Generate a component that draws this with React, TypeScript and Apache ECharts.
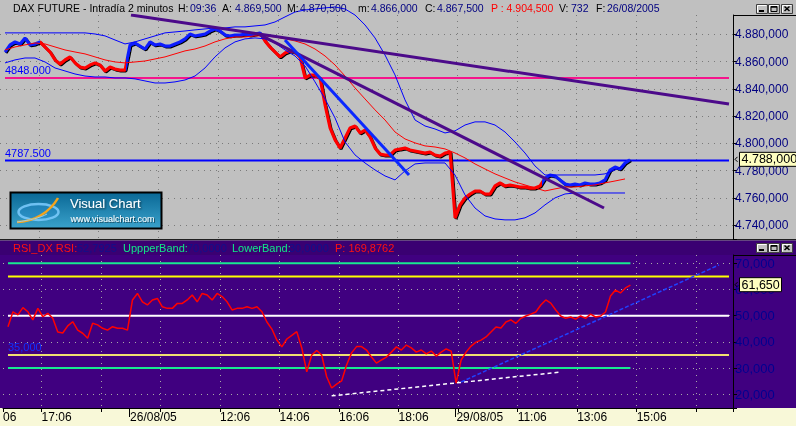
import React, { useEffect, useRef } from 'react';
import * as echarts from 'echarts';

// ---------- axes & ticks ----------
const X_MIN = 21; // bar index at the left edge of the plots
const X_MAX = 754; // bar index at the right edge of the plots
const X_GRID_STEP = 59.75; // bars between time ticks (2 hours of 2-minute bars)
const X_TICK_LABELS = ['15:06', '17:06', '', '', '12:06', '14:06', '16:06', '18:06', '', '11:06', '13:06', '15:06', ''];
const X_EDGE_LABEL = '06'; // the cut-off label at the left edge
const DAY_TICKS = [147.6, 475.3];
const DAY_LABELS = ['26/08/05', '29/08/05'];

const PRICE_MIN = 4730;
const PRICE_MAX = 4894.1;
const RSI_MIN = 14.77;
const RSI_MAX = 73.17;

// ---------- price panel ----------
const BAR0 = 26; // bar index of the first sample
const PRICE_STEP = 5;
const AVG_STEP = 10;

const PRICE = [
  4867.0, 4872.2, 4874.4, 4872.9, 4877.3, 4872.2, 4872.9, 4874.4, 4870.7, 4867.0,
  4861.2, 4858.2, 4861.2, 4863.4, 4859.0, 4856.0, 4855.3, 4857.5, 4859.0, 4857.5,
  4853.1, 4856.0, 4854.6, 4853.8, 4853.8, 4872.2, 4873.6, 4871.4, 4869.2, 4874.4,
  4872.2, 4872.9, 4871.4, 4871.4, 4872.9, 4874.4, 4876.6, 4880.2, 4878.8, 4879.5,
  4880.2, 4882.4, 4883.9, 4882.4, 4879.5, 4878.8, 4879.5, 4879.5, 4880.2, 4879.5,
  4880.2, 4881.0, 4875.1, 4870.7, 4867.0, 4863.4, 4866.3, 4867.8, 4867.0, 4863.4,
  4848.0, 4850.2, 4850.2, 4848.0, 4828.2, 4811.4, 4802.6, 4796.7, 4804.0, 4811.4,
  4812.8, 4807.7, 4809.9, 4804.8, 4796.7, 4792.3, 4791.6, 4791.6, 4795.2, 4796.0,
  4796.7, 4795.2, 4794.5, 4793.8, 4793.0, 4793.8, 4791.6, 4790.8, 4793.0, 4793.8,
  4745.4, 4755.0, 4760.1, 4763.0, 4765.2, 4765.2, 4763.0, 4763.0, 4768.9, 4771.1,
  4768.9, 4769.6, 4768.9, 4768.1, 4768.1, 4767.4, 4767.4, 4768.9, 4774.7, 4776.9,
  4776.2, 4773.3, 4770.3, 4769.6, 4770.3, 4769.6, 4771.1, 4770.3, 4770.3, 4771.1,
  4773.3, 4780.6, 4782.8, 4781.3, 4785.7, 4788.0,
];
const COLOR_BREAKS = [61, 147, 283, 563]; // bar indexes where bars switch blue/red

const MA = [
  4868.5, 4870.7, 4872.2, 4873.6, 4872.9, 4870.7, 4868.5, 4867.0, 4865.6, 4863.4,
  4861.2, 4859.7, 4859.0, 4859.7, 4860.4, 4861.9, 4863.4, 4865.6, 4867.8, 4869.2,
  4871.4, 4874.4, 4876.6, 4878.0, 4878.0, 4878.8, 4878.8, 4878.0, 4876.6, 4875.1,
  4872.9, 4869.2, 4864.1, 4857.5, 4849.4, 4840.7, 4832.6, 4824.6, 4817.2, 4808.4,
  4803.3, 4800.4, 4798.2, 4797.4, 4796.0, 4793.0, 4789.4, 4785.0, 4781.3, 4777.7,
  4774.7, 4771.8, 4769.6, 4767.4, 4765.2, 4766.7, 4768.1, 4768.1, 4768.9, 4769.6,
  4771.1, 4772.5, 4774.0,
];
const BAND_UPPER = [
  4881.0, 4881.0, 4881.0, 4881.0, 4881.0, 4881.0, 4881.0, 4881.0, 4881.0, 4880.2,
  4878.8, 4875.8, 4872.9, 4874.4, 4876.6, 4878.8, 4881.0, 4881.7, 4882.4, 4883.2,
  4883.9, 4884.6, 4884.6, 4885.4, 4885.4, 4886.1, 4886.8, 4889.0, 4892.7, 4896.3,
  4897.8, 4898.5, 4899.3, 4900.0, 4898.5, 4894.1, 4886.8, 4877.3, 4864.8, 4850.2,
  4831.9, 4817.2, 4812.8, 4810.6, 4807.7, 4809.2, 4813.5, 4815.8, 4815.8, 4813.5,
  4808.4, 4801.1, 4793.0, 4783.5, 4776.9, 4776.9, 4776.9, 4776.9, 4776.9, 4776.9,
  4777.7, 4780.6, 4784.2,
];
const BAND_LOWER = [
  4859.0, 4861.2, 4862.6, 4862.6, 4859.7, 4855.3, 4853.1, 4850.9, 4849.4, 4848.7,
  4848.7, 4848.0, 4848.0, 4847.3, 4845.8, 4844.3, 4844.3, 4845.1, 4846.5, 4849.4,
  4855.3, 4863.4, 4870.0, 4874.4, 4876.6, 4877.3, 4876.6, 4873.6, 4868.5, 4864.1,
  4856.8, 4845.1, 4832.6, 4818.7, 4801.1, 4791.6, 4785.7, 4780.6, 4776.2, 4773.3,
  4779.9, 4785.0, 4785.7, 4785.7, 4785.7, 4776.9, 4762.3, 4752.7, 4746.9, 4744.7,
  4744.0, 4744.0, 4745.5, 4749.1, 4755.0, 4760.1, 4763.0, 4763.7, 4763.7, 4763.7,
  4763.7, 4763.7, 4763.7,
];
const PRICE_LEVELS = [4848, 4787.5];
const LEVEL_END = 750;
const TREND_LINES = [
  [[152, 4894.1], [750, 4828.9]],
  [[281, 4879.5], [625, 4752.7]],
  [[306, 4875.8], [430, 4776.9]],
];
const LAST_PRICE = 4788;

// ---------- RSI panel ----------
const RSI = [
  45.8, 51.5, 50.3, 53.1, 51.5, 48.4, 52.8, 49.6, 50.9, 49.0,
  43.8, 43.4, 46.1, 47.7, 44.5, 43.3, 41.4, 47.1, 46.5, 45.2,
  44.5, 45.8, 45.2, 45.2, 44.5, 56.0, 58.5, 55.3, 54.1, 56.0,
  56.6, 53.4, 52.8, 52.8, 54.7, 54.7, 56.0, 57.9, 55.3, 58.5,
  57.9, 56.0, 58.5, 57.3, 55.3, 52.2, 52.8, 52.8, 53.4, 52.8,
  53.4, 51.5, 47.6, 44.9, 40.7, 38.1, 41.1, 42.5, 43.9, 37.7,
  28.6, 35.0, 36.7, 35.0, 26.7, 22.4, 23.9, 25.1, 31.2, 35.8,
  38.2, 38.2, 36.9, 34.2, 31.9, 33.1, 34.2, 36.1, 38.1, 36.9,
  38.8, 37.7, 36.1, 36.9, 35.4, 36.5, 34.6, 36.1, 37.3, 36.5,
  24.3, 33.1, 36.1, 38.4, 39.9, 40.7, 41.9, 43.8, 45.7, 45.3,
  47.6, 48.4, 47.1, 49.0, 49.9, 50.6, 51.4, 54.1, 56.0, 54.8,
  52.2, 49.9, 49.0, 49.5, 48.7, 49.9, 49.0, 50.6, 49.5, 49.9,
  51.4, 57.5, 59.8, 58.7, 60.6, 61.65,
];
const RSI_LEVELS = [70, 65, 50, 35, 30];
const RSI_LEVEL_END = [651, 750, 750, 750, 651];
const RSI_TRENDS = [
  [[351, 19.4], [581, 28.5]],
  [[481, 24.7], [740, 69.4]],
];
const LAST_RSI = 61.65;

// ---------- header texts ----------
const TITLE_PARTS = [
  'DAX FUTURE - Intradía 2 minutos', 'H:', '09:36', 'A:', '4.869,500', 'M:', '4.870,500',
  'm:', '4.866,000', 'C:', '4.867,500', 'P : 4.904,500', 'V:', '732', 'F:', '26/08/2005',
];
const TITLE_KIND = ['l', 'l', 'v', 'l', 'v', 'l', 'v', 'l', 'v', 'l', 'v', 'p', 'l', 'v', 'l', 'v'];
const TITLE_X = [13, 178, 190, 222, 235, 287, 300, 358, 371, 425, 437, 491, 559, 571, 596, 607];
const RSI_HEAD_PARTS = ['RSI_DX RSI:', '52,7925', 'UppperBand:', '70,0000', 'LowerBand:', '30,0000', 'P: 169,8762'];
const RSI_HEAD_KIND = ['n', 'v', 'b', 'v', 'b', 'v', 'n'];
const RSI_HEAD_X = [13, 77, 123, 187, 232, 289, 335];

// ---------- styles ----------
const FONT = '"Liberation Sans", Arial, sans-serif';
const BLUE = '#0a1eff';
const RED = '#ff0000';
const NAVY = '#000080';
const PURPLE_LINE = '#4c0a8a';
const LEVEL_COLORS = ['#f5148c', '#0000ff'];
const RSI_LEVEL_COLORS = ['#18e890', '#ffff00', '#ffffff', '#f0e070', '#18e890'];
const TITLE_COLORS: Record<string, string> = { l: '#000000', v: NAVY, p: '#ff0000' };
const RSI_HEAD_COLORS: Record<string, string> = { n: '#ff1010', v: '#10108c', b: '#10e888' };

const fmt = (v: number, dec: number) => {
  const [i, d] = v.toFixed(dec).split('.');
  const ii = i.replace(/\B(?=(\d{3})+(?!\d))/g, '.');
  return d ? ii + ',' + d : ii;
};
const pairs = (arr: number[], start: number, step: number) => arr.map((v, i) => [start + i * step, v]);

function buildOption(): any {
  const dotted = (color: string) => ({ show: true, lineStyle: { color, width: 1, type: [1, 5] } });
  const pieces: any[] = [];
  const edges = [-Infinity, ...COLOR_BREAKS, Infinity];
  for (let i = 0; i < edges.length - 1; i++) {
    const p: any = { color: i % 2 === 0 ? BLUE : RED };
    if (edges[i] !== -Infinity) p.gte = edges[i];
    if (edges[i + 1] !== Infinity) p.lt = edges[i + 1];
    pieces.push(p);
  }
  const xLabel = (v: number) => {
    if (Math.abs(v - X_MIN) < 0.01) return X_EDGE_LABEL;
    const k = Math.round(v / X_GRID_STEP);
    if (Math.abs(v - k * X_GRID_STEP) > 0.01) return '';
    return X_TICK_LABELS[k] ?? '';
  };
  const series: any[] = [];
  const ln = (xi: number, yi: number, data: any[], lineStyle: any, extra: any = {}) =>
    series.push({ type: 'line', xAxisIndex: xi, yAxisIndex: yi, data, symbol: 'none', showSymbol: false, silent: true, lineStyle, ...extra });

  // price panel
  PRICE_LEVELS.forEach((lv, i) =>
    ln(0, 0, [[BAR0, lv], [LEVEL_END, lv]], { color: LEVEL_COLORS[i], width: 2 }, { z: 2 }));
  ln(0, 0, pairs(PRICE, BAR0, PRICE_STEP), {
    width: 3, shadowColor: '#000', shadowOffsetX: 1, shadowOffsetY: 1, shadowBlur: 0,
  }, { z: 3 });
  const priceIndex = series.length - 1;
  ln(0, 0, pairs(MA, BAR0, AVG_STEP), { color: RED, width: 1 }, { z: 4 });
  ln(0, 0, pairs(BAND_UPPER, BAR0, AVG_STEP), { color: '#0000ff', width: 1 }, { z: 4, clip: false });
  ln(0, 0, pairs(BAND_LOWER, BAR0, AVG_STEP), { color: '#0000ff', width: 1 }, { z: 4 });
  TREND_LINES.forEach((t, i) =>
    ln(0, 0, t, { color: i < 2 ? PURPLE_LINE : '#0a28ff', width: 3 }, { z: 5 }));

  // RSI panel
  RSI_LEVELS.forEach((lv, i) =>
    ln(1, 1, [[BAR0, lv], [RSI_LEVEL_END[i], lv]], { color: RSI_LEVEL_COLORS[i], width: 2 }, { z: 2 }));
  ln(1, 1, pairs(RSI, BAR0, PRICE_STEP), { color: RED, width: 1.5 }, { z: 4 });
  ln(1, 1, RSI_TRENDS[0], { color: '#ffffff', width: 1.5, type: [4, 3] }, { z: 5 });
  ln(1, 1, RSI_TRENDS[1], { color: '#2040ff', width: 1.5, type: [4, 2] }, { z: 5 });

  const xBase = { type: 'value', min: X_MIN, max: X_MAX, minInterval: X_GRID_STEP, maxInterval: X_GRID_STEP, splitNumber: 12 };

  return {
    animation: false,
    grid: [
      { left: 0, right: 63, top: 15, bottom: 187 },
      { left: 0, right: 63, top: 255, bottom: 18 },
    ],
    xAxis: [
      {
        ...xBase, gridIndex: 0,
        axisLine: { show: false }, axisTick: { show: false }, axisLabel: { show: false },
        splitLine: { ...dotted('#7a7a7a'), showMinLine: false, showMaxLine: false },
      },
      {
        ...xBase, gridIndex: 1, position: 'bottom',
        axisLine: { show: true, lineStyle: { color: '#000', width: 1 } },
        axisTick: { show: true, length: 4, lineStyle: { color: '#000' } },
        axisLabel: {
          show: true, color: '#000', fontSize: 12, fontFamily: FONT, align: 'left', margin: 3,
          showMinLabel: true, showMaxLabel: true, formatter: xLabel,
        },
        splitLine: { ...dotted('#a8a8a8'), showMinLine: false, showMaxLine: false },
      },
      {
        type: 'value', gridIndex: 1, min: X_MIN, max: X_MAX, position: 'bottom',
        axisLine: { show: false },
        axisTick: { show: true, length: 9, customValues: DAY_TICKS, lineStyle: { color: '#000' } },
        axisLabel: {
          show: true, customValues: DAY_TICKS, color: '#000', fontSize: 12, fontFamily: FONT,
          align: 'left', margin: 3, padding: [0, 0, 0, 1],
          formatter: (v: number) => {
            const i = DAY_TICKS.findIndex((d) => Math.abs(d - v) < 0.01);
            return i >= 0 ? DAY_LABELS[i] : '';
          },
        },
        splitLine: { show: false },
      },
    ],
    yAxis: [
      {
        type: 'value', gridIndex: 0, position: 'right', min: PRICE_MIN, max: PRICE_MAX,
        splitNumber: 8, minInterval: 20, maxInterval: 20,
        axisLine: { show: true, lineStyle: { color: '#000', width: 1 } },
        axisTick: { show: true, length: 4, lineStyle: { color: '#000' } },
        axisLabel: {
          color: NAVY, fontSize: 12, fontFamily: FONT, margin: 2,
          formatter: (v: number) => (Math.abs(v / 20 - Math.round(v / 20)) < 1e-6 ? fmt(v, 3) : ''),
        },
        splitLine: { ...dotted('#7a7a7a'), showMinLine: false, showMaxLine: false },
      },
      {
        type: 'value', gridIndex: 1, position: 'right', min: RSI_MIN, max: RSI_MAX,
        splitNumber: 6, minInterval: 10, maxInterval: 10,
        axisLine: { show: true, lineStyle: { color: '#000', width: 1 } },
        axisTick: { show: true, length: 4, lineStyle: { color: '#000' } },
        axisLabel: {
          color: '#000090', fontSize: 13, fontFamily: FONT, margin: 2,
          formatter: (v: number) => (Math.abs(v / 10 - Math.round(v / 10)) < 1e-6 ? fmt(v, 3) : ''),
        },
        splitLine: { ...dotted('#a8a8a8'), showMinLine: false, showMaxLine: false },
      },
    ],
    visualMap: [{ type: 'piecewise', show: false, seriesIndex: priceIndex, dimension: 0, pieces }],
    series,
  };
}

function txt(x: number, y: number, text: string, fill: string, fontSize: number, extra: any = {}) {
  return {
    type: 'text', x, y, z: 30, silent: true,
    style: { text, fill, fontSize, fontFamily: FONT, align: 'left', verticalAlign: 'middle', ...extra },
  };
}

function winButtons(y: number) {
  const xs = [756, 768, 781];
  const els: any[] = [];
  xs.forEach((x, i) => {
    els.push({ type: 'rect', z: 30, shape: { x: x + 0.5, y: y + 0.5, width: 11, height: 9 }, style: { fill: '#c0c0c0', stroke: '#404040', lineWidth: 1 } });
    els.push({ type: 'polyline', z: 31, shape: { points: [[x + 1.5, y + 8.5], [x + 1.5, y + 1.5], [x + 10.5, y + 1.5]] }, style: { stroke: '#ffffff', fill: null, lineWidth: 1 } });
    if (i === 0) els.push({ type: 'rect', z: 32, shape: { x: x + 3, y: y + 6, width: 5, height: 2 }, style: { fill: '#000' } });
    if (i === 1) {
      els.push({ type: 'rect', z: 32, shape: { x: x + 3, y: y + 2.5, width: 6, height: 5 }, style: { fill: null, stroke: '#000', lineWidth: 1 } });
      els.push({ type: 'line', z: 32, shape: { x1: x + 3, y1: y + 3, x2: x + 9, y2: y + 3 }, style: { stroke: '#000', lineWidth: 1.5 } });
    }
    if (i === 2) {
      els.push({ type: 'line', z: 32, shape: { x1: x + 3.5, y1: y + 2.5, x2: x + 8.5, y2: y + 7 }, style: { stroke: '#000', lineWidth: 1.5 } });
      els.push({ type: 'line', z: 32, shape: { x1: x + 8.5, y1: y + 2.5, x2: x + 3.5, y2: y + 7 }, style: { stroke: '#000', lineWidth: 1.5 } });
    }
  });
  return els;
}

export default function App() {
  const ref = useRef<HTMLDivElement>(null);
  useEffect(() => {
    if (!ref.current) return;
    const chart = echarts.init(ref.current, undefined, { renderer: 'svg', width: 796, height: 426 });
    chart.setOption(buildOption());

    const toPx = (grid: number, x: number, y: number) =>
      chart.convertToPixel({ gridIndex: grid }, [x, y]) as unknown as number[];

    const els: any[] = [
      // panel backgrounds
      { type: 'rect', z: -10, silent: true, shape: { x: 0, y: 0, width: 796, height: 239 }, style: { fill: '#c0c0c0' } },
      { type: 'rect', z: -10, silent: true, shape: { x: 0, y: 239, width: 796, height: 1.5 }, style: { fill: '#202020' } },
      { type: 'rect', z: -10, silent: true, shape: { x: 0, y: 240.5, width: 796, height: 14.5 }, style: { fill: '#3a0072' } },
      { type: 'rect', z: -10, silent: true, shape: { x: 0, y: 255, width: 796, height: 153 }, style: { fill: '#400080' } },
      { type: 'rect', z: -10, silent: true, shape: { x: 0, y: 408, width: 796, height: 18 }, style: { fill: '#f8f8d8' } },
      // axis boxes
      { type: 'line', z: 20, silent: true, shape: { x1: 733, y1: 15.5, x2: 796, y2: 15.5 }, style: { stroke: '#000', lineWidth: 1 } },
      { type: 'line', z: 20, silent: true, shape: { x1: 733, y1: 255.5, x2: 796, y2: 255.5 }, style: { stroke: '#000', lineWidth: 1 } },
    ];

    // titles
    TITLE_PARTS.forEach((t, i) => els.push(txt(TITLE_X[i], 7.5, t, TITLE_COLORS[TITLE_KIND[i]], 10.5)));
    RSI_HEAD_PARTS.forEach((t, i) => els.push(txt(RSI_HEAD_X[i], 248, t, RSI_HEAD_COLORS[RSI_HEAD_KIND[i]], 11)));
    els.push(...winButtons(4), ...winButtons(243));

    // level labels
    PRICE_LEVELS.forEach((lv) => {
      const [px, py] = toPx(0, BAR0, lv);
      els.push(txt(px, py - 7.5, lv.toFixed(3), '#0000ff', 11));
    });
    {
      const [px, py] = toPx(1, BAR0, RSI_LEVELS[3]);
      els.push(txt(px, py - 8.5, fmt(RSI_LEVELS[3], 3), '#1030ff', 11));
    }

    // last value tags on the axes
    const [, yP] = toPx(0, X_MAX, LAST_PRICE);
    const [, yR] = toPx(1, X_MAX, LAST_RSI);
    [[yP, fmt(LAST_PRICE, 3), 60], [yR, fmt(LAST_RSI, 3), 42]].forEach(([y, label, w]: any) => {
      els.push({ type: 'polyline', z: 30, silent: true, shape: { points: [[737.5, y - 3], [735, y - 0.5], [737.5, y + 2]] }, style: { stroke: '#000', fill: null, lineWidth: 1 } });
      els.push({ type: 'rect', z: 30, silent: true, shape: { x: 739.5, y: y - 7.5, width: w, height: 14 }, style: { fill: '#ffffc0', stroke: '#000', lineWidth: 1 } });
      els.push(txt(741.5, y - 0.5, label, '#000', 12.5));
    });

    // Visual Chart logo
    els.push({
      type: 'rect', z: 40, silent: true, shape: { x: 10.5, y: 192.5, width: 151, height: 36 },
      style: {
        fill: new echarts.graphic.LinearGradient(0, 0, 0, 1, [
          { offset: 0, color: '#0a6896' }, { offset: 1, color: '#3aa2cb' },
        ]),
        stroke: '#000', lineWidth: 2,
      },
    });
    els.push({ type: 'ellipse', z: 41, silent: true, shape: { cx: 38.5, cy: 212, rx: 20, ry: 8 }, style: { fill: 'rgba(40,140,210,0.35)', stroke: 'rgba(120,200,250,0.9)', lineWidth: 2.5 } });
    els.push({ type: 'bezierCurve', z: 42, silent: true, shape: { x1: 17, y1: 222, cpx1: 34, cpy1: 222, cpx2: 50, cpy2: 212, x2: 58, y2: 198 }, style: { stroke: '#f4a41c', lineWidth: 2.5, fill: null } });
    els.push({ type: 'bezierCurve', z: 42, silent: true, shape: { x1: 17, y1: 222, cpx1: 30, cpy1: 220, cpx2: 40, cpy2: 218, x2: 47, y2: 214 }, style: { stroke: '#9ad0e8', lineWidth: 1, fill: null } });
    const t1: any = txt(70, 203.5, 'Visual Chart', '#ffffff', 13, { textShadowColor: 'rgba(0,0,0,0.6)', textShadowBlur: 2, textShadowOffsetX: 1, textShadowOffsetY: 1 });
    const t2: any = txt(70.5, 219, 'www.visualchart.com', '#ffffff', 9, { textShadowColor: 'rgba(0,0,0,0.5)', textShadowBlur: 1, textShadowOffsetX: 1, textShadowOffsetY: 1 });
    t1.z = 43; t2.z = 43;
    els.push(t1, t2);

    chart.setOption({ graphic: { elements: els } });
    return () => chart.dispose();
  }, []);
  return <div ref={ref} style={{ position: 'fixed', left: 0, top: 0, width: 796, height: 426 }} />;
}
